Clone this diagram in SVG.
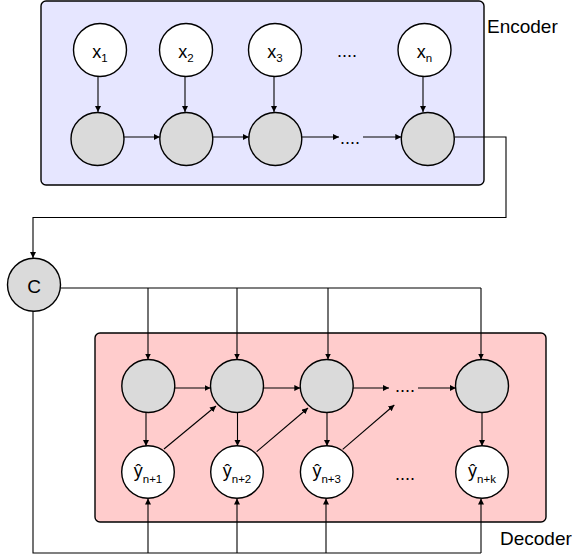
<svg xmlns="http://www.w3.org/2000/svg" width="576" height="558" viewBox="0 0 576 558">
<style>
text{font-family:"Liberation Sans",Arial,sans-serif;fill:#000}
.n{stroke:#000;stroke-width:1.4}
.g{fill:#dadada}
.w{fill:#fff}
.e{fill:none;stroke:#000;stroke-width:1.1}
.lbl{font-size:18px;text-anchor:middle}
.sub{font-size:11.5px}
.dots{font-size:18px;text-anchor:middle}
.big{font-size:19px}
</style>
<defs>
<marker id="a" markerUnits="userSpaceOnUse" markerWidth="7" markerHeight="7" refX="6" refY="3" orient="auto">
<path d="M0,0 L6,3 L0,6 z" fill="#000"/>
</marker>
</defs>
<g id="encoder">
<rect x="41" y="1" width="443" height="184" rx="5" fill="#e6e6ff" stroke="#000" stroke-width="1.4"/>
<text class="big" x="487" y="33">Encoder</text>
</g>
<g id="decoder">
<rect x="95" y="333" width="451" height="189" rx="5" fill="#ffcccc" stroke="#000" stroke-width="1.4"/>
<text class="big" x="500" y="545">Decoder</text>
</g>
<g id="connectors">
<path class="e" d="M98,76.5 V112" marker-end="url(#a)"/>
<path class="e" d="M185,76.5 V112" marker-end="url(#a)"/>
<path class="e" d="M274,76.5 V112" marker-end="url(#a)"/>
<path class="e" d="M423,76.5 V112" marker-end="url(#a)"/>
<path class="e" d="M124,137 H159.8" marker-end="url(#a)"/>
<path class="e" d="M213,137 H248.8" marker-end="url(#a)"/>
<path class="e" d="M302,137 H339" marker-end="url(#a)"/>
<path class="e" d="M363,137 H401.3" marker-end="url(#a)"/>
<path class="e" d="M454.3,137 H506 V217.5 H33 V258" marker-end="url(#a)"/>
<path class="e" d="M60.5,288 H481"/>
<path class="e" d="M148,288 V359.5" marker-end="url(#a)"/>
<path class="e" d="M237,288 V359.5" marker-end="url(#a)"/>
<path class="e" d="M328,288 V359.5" marker-end="url(#a)"/>
<path class="e" d="M481,288 V359.5" marker-end="url(#a)"/>
<path class="e" d="M33,311 V553 H481"/>
<path class="e" d="M148,553 V498.5" marker-end="url(#a)"/>
<path class="e" d="M237,553 V498.5" marker-end="url(#a)"/>
<path class="e" d="M326,553 V498.5" marker-end="url(#a)"/>
<path class="e" d="M481,553 V498.5" marker-end="url(#a)"/>
<path class="e" d="M146,412.5 V446" marker-end="url(#a)"/>
<path class="e" d="M237.5,412.5 V446" marker-end="url(#a)"/>
<path class="e" d="M327,412.5 V446" marker-end="url(#a)"/>
<path class="e" d="M482,412.5 V446" marker-end="url(#a)"/>
<path class="e" d="M174.5,388 H210.5" marker-end="url(#a)"/>
<path class="e" d="M263.5,388 H300.3" marker-end="url(#a)"/>
<path class="e" d="M353,388 H389" marker-end="url(#a)"/>
<path class="e" d="M418,388 H455.8" marker-end="url(#a)"/>
<path class="e" d="M164,449 L216,406" marker-end="url(#a)"/>
<path class="e" d="M256.7,451.7 L308,408" marker-end="url(#a)"/>
<path class="e" d="M342.7,449.3 L394.3,405" marker-end="url(#a)"/>
</g>
<g id="x1"><circle class="n w" cx="100" cy="50" r="26.5"/><text class="lbl" x="100" y="57.5">x<tspan class="sub" dy="4">1</tspan></text></g>
<g id="x2"><circle class="n w" cx="186" cy="50" r="26.5"/><text class="lbl" x="186" y="57.5">x<tspan class="sub" dy="4">2</tspan></text></g>
<g id="x3"><circle class="n w" cx="275" cy="50" r="26.5"/><text class="lbl" x="275" y="57.5">x<tspan class="sub" dy="4">3</tspan></text></g>
<g id="xdots"><text class="dots" x="347" y="57">....</text></g>
<g id="xn"><circle class="n w" cx="424.5" cy="50" r="26.5"/><text class="lbl" x="424.5" y="57.5">x<tspan class="sub" dy="4">n</tspan></text></g>
<g id="h1"><circle class="n g" cx="97.5" cy="139" r="26.5"/></g>
<g id="h2"><circle class="n g" cx="186.3" cy="139" r="26.5"/></g>
<g id="h3"><circle class="n g" cx="275.3" cy="139" r="26.5"/></g>
<g id="hdots"><text class="dots" x="350" y="143.5">....</text></g>
<g id="hn"><circle class="n g" cx="427.8" cy="139" r="26.5"/></g>
<g id="c"><circle class="n g" cx="34" cy="284.7" r="26.5"/><text class="big" x="34" y="293.3" text-anchor="middle">C</text></g>
<g id="s1"><circle class="n g" cx="148.3" cy="386" r="26.5"/></g>
<g id="s2"><circle class="n g" cx="237" cy="386" r="26.5"/></g>
<g id="s3"><circle class="n g" cx="326.7" cy="386" r="26.5"/></g>
<g id="sdots"><text class="dots" x="405" y="392">....</text></g>
<g id="s4"><circle class="n g" cx="482" cy="386" r="26.5"/></g>
<g id="y1"><circle class="n w" cx="148" cy="472" r="26.3"/><text class="lbl" x="148" y="477">ŷ<tspan class="sub" dy="6">n+1</tspan></text></g>
<g id="y2"><circle class="n w" cx="237" cy="472" r="26.3"/><text class="lbl" x="237" y="477">ŷ<tspan class="sub" dy="6">n+2</tspan></text></g>
<g id="y3"><circle class="n w" cx="326.7" cy="472" r="26.3"/><text class="lbl" x="326.7" y="477">ŷ<tspan class="sub" dy="6">n+3</tspan></text></g>
<g id="ydots"><text class="dots" x="405" y="479.5">....</text></g>
<g id="y4"><circle class="n w" cx="482" cy="472" r="26.3"/><text class="lbl" x="482" y="477">ŷ<tspan class="sub" dy="6">n+k</tspan></text></g>
</svg>
